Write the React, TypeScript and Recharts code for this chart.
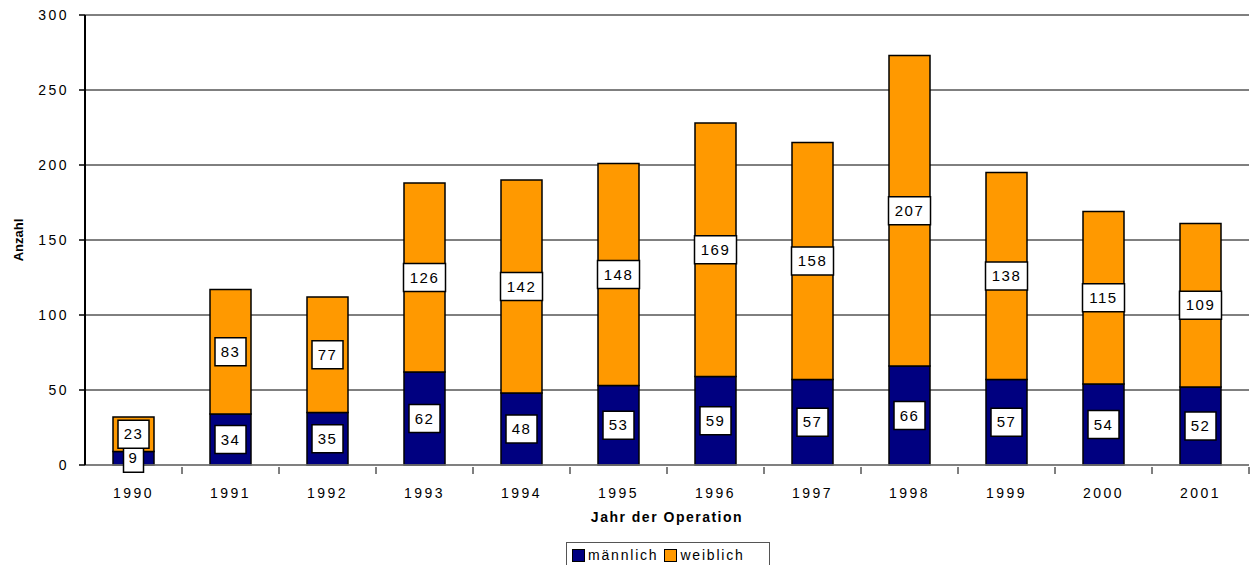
import React from 'react';
import { BarChart, Bar, XAxis, YAxis, CartesianGrid, LabelList } from 'recharts';

const years = ['1990', '1991', '1992', '1993', '1994', '1995', '1996', '1997', '1998', '1999', '2000', '2001'];
const maennlich = [9, 34, 35, 62, 48, 53, 59, 57, 66, 57, 54, 52];
const weiblich = [23, 83, 77, 126, 142, 148, 169, 158, 207, 138, 115, 109];
const yTicks = [0, 50, 100, 150, 200, 250, 300];
const seriesNames = ['männlich', 'weiblich'];

const data = years.map((y, i) => ({ year: y, m: maennlich[i], w: weiblich[i] }));

const FONT = '"Liberation Sans", Arial, sans-serif';
const NAVY = '#000080';
const ORANGE = '#FF9900';

const BoxLabel = (props: any) => {
  const { x, y, width, height, value } = props;
  const cx = x + width / 2;
  const cy = y + height / 2;
  const s = String(value);
  const w = s.length >= 3 ? 42 : s.length === 2 ? 31 : 20;
  const h = 28;
  return (
    <g>
      <rect x={cx - w / 2} y={cy - h / 2} width={w} height={h} fill="#fff" stroke="#000" strokeWidth={1.5} />
      <text x={cx} y={cy + 5} textAnchor="middle" fontFamily={FONT} fontSize={15} letterSpacing={1.5} fill="#000">
        {s}
      </text>
    </g>
  );
};

const XTick = (props: any) => {
  const { x, y, payload } = props;
  return (
    <g>
      <line x1={x + 48.5} x2={x + 48.5} y1={y} y2={y + 7} stroke="#000" strokeWidth={1} />
      <text x={x} y={y + 31} textAnchor="middle" fontFamily={FONT} fontSize={14} letterSpacing={2.5} fill="#000">
        {payload.value}
      </text>
    </g>
  );
};

const LegendBox = () => (
  <div
    style={{
      position: 'absolute',
      left: 566,
      top: 542,
      border: '1px solid #555',
      background: '#fff',
      display: 'flex',
      alignItems: 'center',
      padding: '3px 5px 4px 5px',
      fontFamily: FONT,
      fontSize: 14,
      letterSpacing: 1.8,
      lineHeight: '16px',
      width: 192,
      height: 18,
    }}
  >
    <span style={{ display: 'inline-block', width: 11, height: 11, background: NAVY, border: '1px solid #000', marginRight: 3 }} />
    <span style={{ marginRight: 6 }}>{seriesNames[0]}</span>
    <span style={{ display: 'inline-block', width: 11, height: 11, background: ORANGE, border: '1px solid #000', marginRight: 3 }} />
    <span>{seriesNames[1]}</span>
  </div>
);

export default function App() {
  return (
    <div style={{ position: 'absolute', left: 0, top: 0, width: 1255, height: 565, background: '#fff', overflow: 'hidden' }}>
      <BarChart width={1255} height={565} data={data} margin={{ top: 15, right: 6, bottom: 70, left: 0 }} barCategoryGap={28}>
        <CartesianGrid vertical={false} stroke="#000" strokeWidth={1} />
        <XAxis
          dataKey="year"
          tick={<XTick />}
          tickLine={false}
          tickSize={0}
          height={30}
          axisLine={{ stroke: '#808080', strokeWidth: 1.5 }}
          interval={0}
        />
        <YAxis
          width={85}
          domain={[0, 300]}
          ticks={yTicks}
          interval={0}
          tickSize={6}
          tickMargin={10}
          tickLine={{ stroke: '#000', strokeWidth: 1.5 }}
          axisLine={{ stroke: '#000', strokeWidth: 2 }}
          tick={{ fontFamily: FONT, fontSize: 14, fill: '#000', letterSpacing: 2.5 }}
        />
        <Bar dataKey="m" name={seriesNames[0]} stackId="a" fill={NAVY} stroke="#000" strokeWidth={1.5} isAnimationActive={false}>
          <LabelList dataKey="m" content={<BoxLabel />} />
        </Bar>
        <Bar dataKey="w" name={seriesNames[1]} stackId="a" fill={ORANGE} stroke="#000" strokeWidth={1.5} isAnimationActive={false}>
          <LabelList dataKey="w" content={<BoxLabel />} />
        </Bar>
        <text x={18} y={240} transform="rotate(-90 18 240)" textAnchor="middle" dominantBaseline="central" fontFamily={FONT} fontSize={13} fontWeight="bold" fill="#000">
          Anzahl
        </text>
        <text x={667} y={522} textAnchor="middle" fontFamily={FONT} fontSize={14} fontWeight="bold" letterSpacing={1.5} fill="#000">
          Jahr der Operation
        </text>
      </BarChart>
      <LegendBox />
    </div>
  );
}
